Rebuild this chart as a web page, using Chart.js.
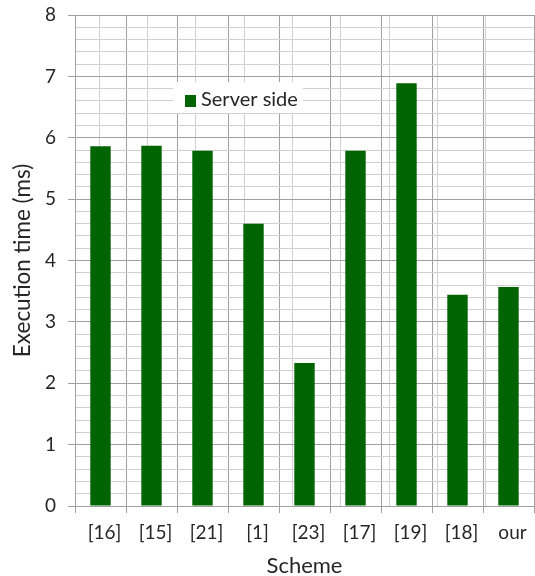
<!DOCTYPE html>
<html>
<head>
<meta charset="utf-8">
<script src="https://cdn.jsdelivr.net/npm/chart.js@4/dist/chart.umd.min.js"></script>
<style>
  html, body { margin: 0; padding: 0; background: #fff; }
  #wrap { width: 535px; height: 576px; }
</style>
</head>
<body>
<div id="wrap"><canvas id="c" width="535" height="576"></canvas></div>
<script>
// Execution time per scheme, server side (ms)
const schemes = ['[16]', '[15]', '[21]', '[1]', '[23]', '[17]', '[19]', '[18]', 'our'];
const serverSide = [5.86, 5.87, 5.79, 4.60, 2.33, 5.79, 6.89, 3.44, 3.57];
const yTicks = [0, 1, 2, 3, 4, 5, 6, 7, 8];

const FONT = 'Lato, "Open Sans", sans-serif';
const MAJOR = '#a0a0a0';
const MINOR = '#d0d0d0';
const GREEN = '#006400';
const TEXT = '#262626';
const isMajor = v => yTicks.some(t => Math.abs(t - v) < 1e-6);

// Legend box drawn inside the plot area
const insetLegend = {
  id: 'insetLegend',
  afterDatasetsDraw(chart) {
    const ctx = chart.ctx;
    const ds = chart.data.datasets[0];
    ctx.save();
    ctx.fillStyle = '#ffffff';
    ctx.fillRect(173, 82, 130, 31);
    ctx.fillStyle = ds.backgroundColor;
    ctx.fillRect(185, 95, 11, 12);
    ctx.fillStyle = TEXT;
    ctx.font = '20px ' + FONT;
    ctx.textBaseline = 'middle';
    ctx.fillText(ds.label, 201, 100);
    ctx.restore();
  }
};

new Chart(document.getElementById('c'), {
  type: 'bar',
  data: {
    labels: schemes,
    datasets: [{
      label: 'Server side',
      data: serverSide,
      backgroundColor: GREEN,
      borderWidth: 0,
      barPercentage: 0.4,
      categoryPercentage: 1.0,
      xAxisID: 'x',
      yAxisID: 'y'
    }]
  },
  options: {
    responsive: false,
    animation: false,
    layout: { padding: { top: 15, right: 1, left: 0, bottom: 0 } },
    plugins: { legend: { display: false }, tooltip: { enabled: false } },
    scales: {
      x: {
        type: 'category',
        position: 'bottom',
        grid: { offset: true, color: MAJOR, tickColor: MAJOR, tickLength: 7, lineWidth: 1 },
        border: { color: MAJOR },
        ticks: { color: TEXT, font: { family: FONT, size: 19 }, padding: 8, maxRotation: 0, labelOffset: 4 },
        title: { display: true, text: 'Scheme', color: TEXT, font: { family: FONT, size: 22 }, padding: { top: 0, bottom: -3 } },
        afterFit(s) { s.height = 70; s.paddingLeft = 0; s.paddingRight = 0; }
      },
      xMinor: {
        type: 'linear',
        position: 'top',
        min: 0,
        max: schemes.length,
        ticks: { display: false, stepSize: 0.5 },
        grid: {
          drawTicks: false,
          color: c => (c.tick && Math.abs(c.tick.value % 1 - 0.5) < 1e-6) ? MINOR : 'rgba(0,0,0,0)'
        },
        border: { display: false },
        afterFit(s) { s.height = 0; s.paddingLeft = 0; s.paddingRight = 0; }
      },
      y: {
        min: 0,
        max: 8,
        ticks: {
          stepSize: 0.2,
          autoSkip: false,
          color: TEXT,
          font: { family: FONT, size: 19 },
          padding: 12,
          callback: v => isMajor(v) ? String(Math.round(v)) : ''
        },
        grid: {
          color: c => (c.tick && isMajor(c.tick.value)) ? MAJOR : MINOR,
          tickColor: c => (c.tick && isMajor(c.tick.value)) ? MAJOR : 'rgba(0,0,0,0)',
          tickLength: 7
        },
        border: { color: MAJOR },
        title: { display: true, text: 'Execution time (ms)', color: TEXT, font: { family: FONT, size: 22.5 }, padding: { top: 9, bottom: 0 } },
        afterFit(s) { s.width = 75; s.paddingTop = 0; s.paddingBottom = 0; }
      }
    }
  },
  plugins: [insetLegend]
});
</script>
</body>
</html>
